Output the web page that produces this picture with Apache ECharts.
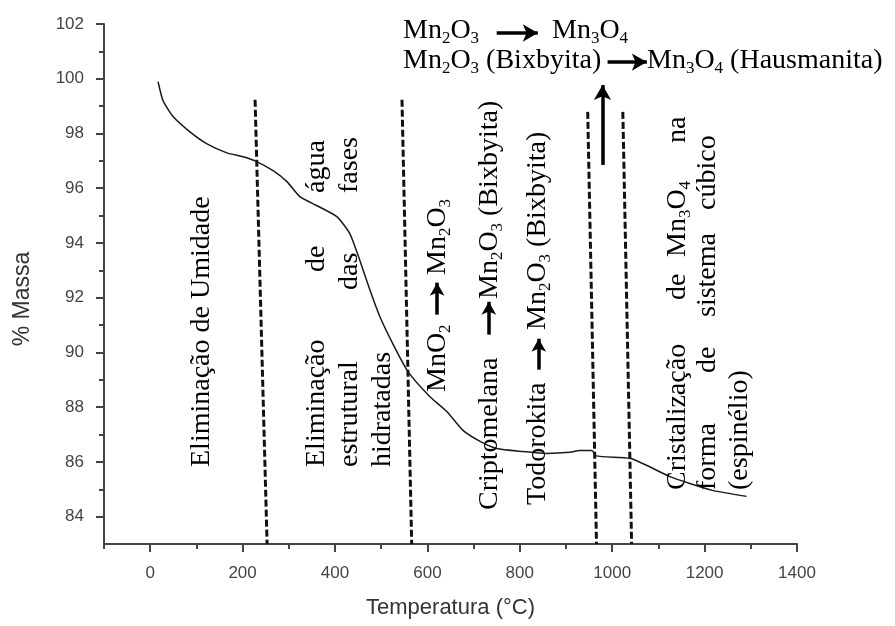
<!DOCTYPE html>
<html>
<head>
<meta charset="utf-8">
<script src="https://cdn.jsdelivr.net/npm/echarts@6/dist/echarts.min.js"></script>
<style>
  html, body { margin: 0; padding: 0; background: #fff; }
  #tga { width: 895px; height: 626px; }
</style>
</head>
<body>
<div id="tga"></div>
<script>
// curva termogravimétrica
var tempC = [17, 28, 50, 86, 123, 166, 201, 227, 266, 296, 324, 361, 404, 432, 454, 476, 497, 525, 558,
  605, 642, 677, 714, 750, 806, 858, 908, 930, 956, 965, 1038, 1075, 1124, 1168, 1217, 1291];
var massa = [99.89, 99.19, 98.61, 98.06, 97.62, 97.29, 97.15, 97.0, 96.64, 96.24, 95.69, 95.36, 94.96, 94.34, 93.35, 92.26, 91.31, 90.32, 89.3,
  88.39, 87.84, 87.15, 86.75, 86.49, 86.38, 86.31, 86.35, 86.42, 86.42, 86.22, 86.13, 85.87, 85.47, 85.21, 84.96, 84.74];

var xTicks = [0, 200, 400, 600, 800, 1000, 1200, 1400];
var xMinor = [-100, 100, 300, 500, 700, 900, 1100, 1300];
var yTicks = [84, 86, 88, 90, 92, 94, 96, 98, 100, 102];
var yMinor = [85, 87, 89, 91, 93, 95, 97, 99, 101];

// linhas tracejadas que separam as etapas
var divTop = [[227, 99.23], [545, 99.23], [947, 98.79], [1023, 98.79]];
var divBottom = [[253, 83], [566, 83], [966, 83], [1042, 83]];

// setas grossas (início, fim)
var bigArrows = [
  [[979, 96.85], [979, 99.77]],
  [[750, 101.67], [839, 101.67]],
  [[990, 100.61], [1075, 100.61]]
];
// setas pequenas dentro dos textos verticais
var smallArrows = [
  [[621, 91.38], [621, 92.55]],
  [[733, 90.65], [733, 91.85]],
  [[841, 89.37], [841, 90.5]]
];

var serif = '"Liberation Serif", "Times New Roman", serif';
var rich = {
  n: { fontFamily: serif, fontSize: 28, lineHeight: 32, color: '#000' },
  s: { fontFamily: serif, fontSize: 17, lineHeight: 17, verticalAlign: 'bottom', color: '#000' }
};

function txt(x, y, text, rot) {
  return {
    type: 'text', x: x, y: y, rotation: rot ? Math.PI / 2 : 0, silent: true, z: 20,
    style: {
      text: text, rich: rich, fill: '#000',
      fontFamily: serif, fontSize: 28,
      align: 'left', verticalAlign: 'middle'
    }
  };
}

var mn2o3 = '{n|Mn}{s|2}{n|O}{s|3}';
var mn3o4 = '{n|Mn}{s|3}{n|O}{s|4}';

var graphics = [
  txt(403, 31, mn2o3),
  txt(552, 31, mn3o4),
  txt(403, 61, mn2o3 + '{n| (Bixbyita)}'),
  txt(647, 61, mn3o4 + '{n| (Hausmanita)}'),

  txt(202, 467, '{n|Eliminação de Umidade}', true),

  txt(317, 467, '{n|Eliminação}', true),
  txt(317, 272, '{n|de}', true),
  txt(317, 193, '{n|água}', true),
  txt(350, 467, '{n|estrutural}', true),
  txt(350, 290, '{n|das}', true),
  txt(350, 193, '{n|fases}', true),
  txt(383, 467, '{n|hidratadas}', true),

  txt(438, 392, '{n|MnO}{s|2}', true),
  txt(438, 275, mn2o3, true),
  txt(490, 510, '{n|Criptomelana}', true),
  txt(490, 299, mn2o3 + '{n| (Bixbyita)}', true),
  txt(538, 505, '{n|Todorokita}', true),
  txt(538, 330, mn2o3 + '{n| (Bixbyita)}', true),

  txt(678, 490, '{n|Cristalização}', true),
  txt(678, 300, '{n|de}', true),
  txt(678, 257, mn3o4, true),
  txt(678, 143, '{n|na}', true),
  txt(708, 490, '{n|forma}', true),
  txt(708, 373, '{n|de}', true),
  txt(708, 317, '{n|sistema}', true),
  txt(708, 210, '{n|cúbico}', true),
  txt(740, 490, '{n|(espinélio)}', true)
];

var axisColor = '#444';
var labelFont = { fontFamily: '"Liberation Sans", Arial, sans-serif', fontSize: 17, color: '#444' };
var plain = function (v) { return String(v); };
var toLine = function (a) { return [{ coord: a[0] }, { coord: a[1] }]; };

var series = [{
  type: 'line',
  data: tempC.map(function (t, i) { return [t, massa[i]]; }),
  showSymbol: false,
  smooth: 0.2,
  lineStyle: { color: '#1a1a1a', width: 1.5 },
  z: 5,
  markLine: {
    silent: true,
    symbol: ['none', 'arrow'],
    symbolSize: [13, 15],
    label: { show: false },
    lineStyle: { type: 'solid', color: '#000', width: 3.5 },
    data: bigArrows.map(toLine)
  }
}, {
  type: 'line',
  data: [],
  markLine: {
    silent: true,
    symbol: ['none', 'arrow'],
    symbolSize: [11, 13],
    label: { show: false },
    lineStyle: { type: 'solid', color: '#000', width: 3.5 },
    data: smallArrows.map(toLine)
  }
}];
divTop.forEach(function (p, i) {
  series.push({
    type: 'line',
    data: [p, divBottom[i]],
    showSymbol: false,
    lineStyle: { color: '#111', width: 3, type: [7, 3] },
    z: 4
  });
});

var chart = echarts.init(document.getElementById('tga'));
chart.setOption({
  animation: false,
  backgroundColor: '#fff',
  grid: { left: 104, right: 98, top: 24, bottom: 82, outerBoundsMode: 'none', containLabel: false },
  xAxis: [{
    type: 'value', min: -100, max: 1400,
    name: 'Temperatura (°C)', nameLocation: 'middle', nameGap: 53,
    nameTextStyle: { fontFamily: '"Liberation Sans", Arial, sans-serif', fontSize: 22, color: '#333' },
    axisLine: { onZero: false, lineStyle: { color: axisColor, width: 2 } },
    axisTick: { customValues: xTicks, length: 8, lineStyle: { color: axisColor, width: 2 } },
    axisLabel: Object.assign({ customValues: xTicks, margin: 21, formatter: plain }, labelFont),
    splitLine: { show: false }
  }, {
    type: 'value', min: -100, max: 1400, position: 'bottom',
    axisLine: { show: false, onZero: false },
    axisTick: { customValues: xMinor, length: 5, lineStyle: { color: axisColor, width: 2 } },
    axisLabel: { show: false },
    splitLine: { show: false }
  }],
  yAxis: [{
    type: 'value', min: 83, max: 102,
    name: '% Massa', nameLocation: 'middle', nameGap: 70,
    nameTextStyle: { fontFamily: '"Liberation Sans", Arial, sans-serif', fontSize: 23, color: '#333', padding: [0, 30, 0, 0] },
    axisLine: { show: true, onZero: false, lineStyle: { color: axisColor, width: 2 } },
    axisTick: { show: true, customValues: yTicks, length: 8, lineStyle: { color: axisColor, width: 2 } },
    axisLabel: Object.assign({ customValues: yTicks, margin: 20, formatter: plain }, labelFont),
    splitLine: { show: false }
  }, {
    type: 'value', min: 83, max: 102, position: 'left',
    axisLine: { show: false, onZero: false },
    axisTick: { show: true, customValues: yMinor, length: 5, lineStyle: { color: axisColor, width: 2 } },
    axisLabel: { show: false },
    splitLine: { show: false }
  }],
  series: series,
  graphic: graphics
});
</script>
</body>
</html>
